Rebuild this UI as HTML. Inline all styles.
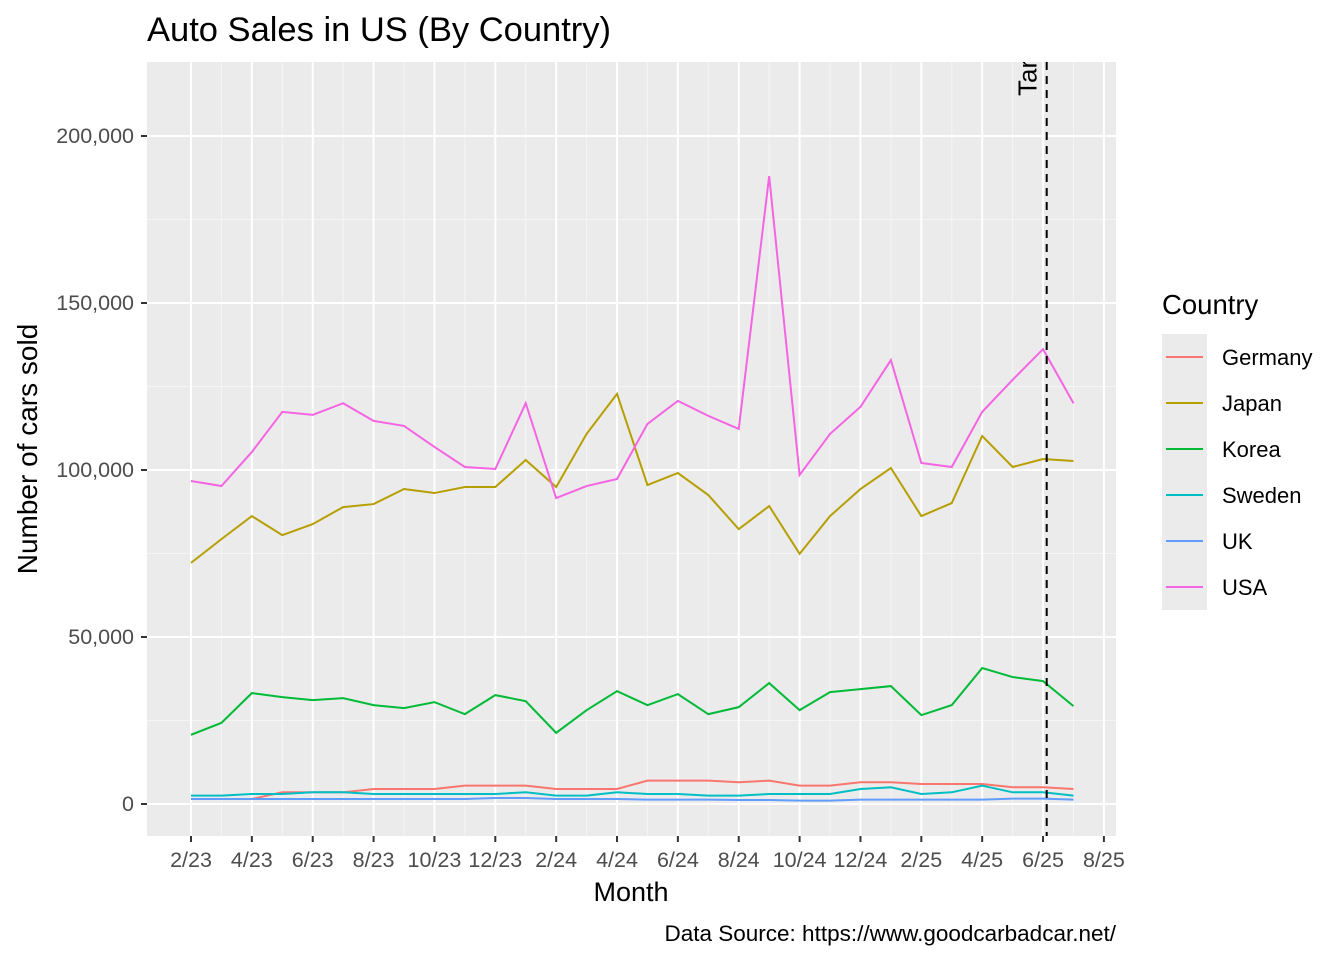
<!DOCTYPE html>
<html><head><meta charset="utf-8"><style>
body{margin:0;background:#fff;font-family:"Liberation Sans",sans-serif}
svg text{font-family:"Liberation Sans",sans-serif}
</style></head><body>
<svg id="chart" width="1344" height="960" xmlns="http://www.w3.org/2000/svg">
<defs><clipPath id="pc"><rect x="147" y="62" width="969" height="774"/></clipPath></defs>
<rect x="0" y="0" width="1344" height="960" fill="#fff"/>
<text x="147" y="41" font-size="34.5" fill="#000">Auto Sales in US (By Country)</text>
<rect x="147" y="62" width="969" height="774" fill="#EBEBEB"/>
<g id="grid"></g>
<g id="series" clip-path="url(#pc)"></g>
<g id="vline" clip-path="url(#pc)"></g>
<g id="axes"></g>
<text x="631" y="901" font-size="27" text-anchor="middle">Month</text>
<text transform="translate(37,449) rotate(-90)" font-size="28" text-anchor="middle">Number of cars sold</text>
<text x="1116" y="941" font-size="22.5" text-anchor="end">Data Source: https://www.goodcarbadcar.net/</text>
<g id="legend"></g>
</svg>
<script>
const months = ["2/23","3/23","4/23","5/23","6/23","7/23","8/23","9/23","10/23","11/23","12/23","1/24","2/24","3/24","4/24","5/24","6/24","7/24","8/24","9/24","10/24","11/24","12/24","1/25","2/25","3/25","4/25","5/25","6/25","7/25"];
const countries = ["Germany","Japan","Korea","Sweden","UK","USA"];
const colors = ["#F8766D","#B79F00","#00BA38","#00BFC4","#619CFF","#F564E3"];
const germany = [1500,1500,1500,3500,3500,3500,4500,4500,4500,5500,5500,5500,4500,4500,4500,7000,7000,7000,6500,7000,5500,5500,6500,6500,6000,6000,6000,5000,5000,4500];
const japan = [72200,79300,86200,80500,83800,88900,89800,94300,93100,94900,94900,103000,94900,110800,122800,95500,99100,92500,82300,89200,74900,86200,94300,100600,86200,90100,110200,100900,103300,102700];
const korea = [20700,24300,33200,32000,31100,31700,29600,28700,30500,26900,32600,30800,21300,28100,33800,29600,32900,26900,29000,36200,28100,33500,34400,35300,26600,29600,40700,38000,36800,29300];
const sweden = [2500,2500,3000,3000,3500,3500,3000,3000,3000,3000,3000,3500,2500,2500,3500,3000,3000,2500,2500,3000,3000,3000,4500,5000,3000,3500,5500,3500,3500,2500];
const uk = [1500,1500,1500,1500,1500,1500,1500,1500,1500,1500,1800,1800,1500,1500,1500,1300,1300,1300,1200,1200,1000,1000,1300,1300,1300,1300,1300,1600,1600,1300];
const usa = [96700,95200,105400,117400,116500,120000,114700,113200,106900,100900,100300,120000,91600,95200,97300,113800,120700,116200,112300,188000,98500,110800,118900,132900,102100,100900,117400,127000,136200,120000];
const yTicks = [0,50000,100000,150000,200000];
const yTickLabels = ["0","50,000","100,000","150,000","200,000"];
const xTickLabels = ["2/23","4/23","6/23","8/23","10/23","12/23","2/24","4/24","6/24","8/24","10/24","12/24","2/25","4/25","6/25","8/25"];
const tariffMonth = 28.12;

const NS="http://www.w3.org/2000/svg";
const xs = i => 191 + i*30.43;
const ys = v => 804 - v*(668/200000);
function mk(tag, attrs, parent){const e=document.createElementNS(NS,tag);for(const k in attrs)e.setAttribute(k,attrs[k]);parent.appendChild(e);return e;}
const grid=document.getElementById('grid'), axes=document.getElementById('axes');
for(let k=0;k<yTicks.length;k++){
  const v=yTicks[k]+25000; if(ys(v)<62) continue;
  const l=mk('line',{x1:147,x2:1116,y1:ys(v),y2:ys(v),stroke:'#F5F5F5','stroke-width':1},grid);
  
  
}
for(let i=1;i<30;i+=2){
  const l=mk('line',{x1:xs(i),x2:xs(i),y1:62,y2:836,stroke:'#F5F5F5','stroke-width':1},grid);
  
  
}
yTicks.forEach((v,k)=>{
  const l=mk('line',{x1:147,x2:1116,y1:ys(v),y2:ys(v),stroke:'#fff','stroke-width':2},grid);
  
  
  const t=mk('line',{x1:141,x2:147,y1:ys(v),y2:ys(v),stroke:'#333','stroke-width':2},axes);
  
  
  const tx=mk('text',{x:134,y:ys(v)+7,'font-size':21.5,fill:'#4D4D4D','text-anchor':'end'},axes);
  tx.textContent=yTickLabels[k];
  
  
});
xTickLabels.forEach((lab,k)=>{
  const x=xs(k*2);
  const l=mk('line',{x1:x,x2:x,y1:62,y2:836,stroke:'#fff','stroke-width':2},grid);
  
  
  const t=mk('line',{x1:x,x2:x,y1:836,y2:842,stroke:'#333','stroke-width':2},axes);
  
  
  const tx=mk('text',{x:x,y:867,'font-size':21.5,fill:'#4D4D4D','text-anchor':'middle'},axes);
  tx.textContent=lab;
  
  
});
const seriesData=[germany,japan,korea,sweden,uk,usa];
const sg=document.getElementById('series');
seriesData.forEach((arr,s)=>{
  const p=mk('polyline',{points:arr.map((v,i)=>xs(i)+','+ys(v)).join(' '),fill:'none',stroke:colors[s],'stroke-width':2},sg);
  
  
});
const vg=document.getElementById('vline');
const vx=xs(tariffMonth);
const vl=mk('line',{x1:vx,x2:vx,y1:62,y2:836,stroke:'#000','stroke-width':2,'stroke-dasharray':'8,6'},vg);


const vt=mk('text',{transform:`translate(${vx-10},96) rotate(-90)`,'font-size':26,fill:'#000'},vg);
vt.textContent='Tariff';


const lg=document.getElementById('legend');
const lt=mk('text',{x:1162,y:314,'font-size':27.5},lg);
lt.textContent='Country';


countries.forEach((c,k)=>{
  const y=334+k*46;
  const r=mk('rect',{x:1162,y:y,width:45,height:46,fill:'#EBEBEB'},lg);
  
  
  const l=mk('line',{x1:1166,x2:1203,y1:y+23,y2:y+23,stroke:colors[k],'stroke-width':2},lg);
  
  
  const t=mk('text',{x:1222,y:y+31,'font-size':22},lg);
  t.textContent=c;
  
  
});
</script>
</body></html>
